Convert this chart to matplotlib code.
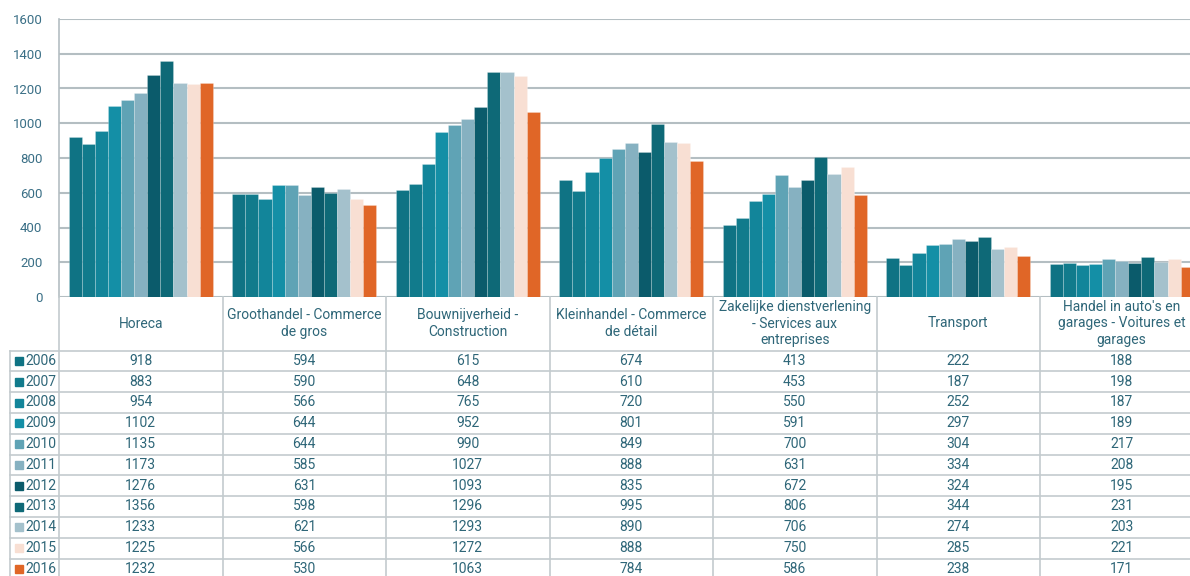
import matplotlib
matplotlib.use("Agg")
import matplotlib.pyplot as plt
import numpy as np

plt.rcParams['font.family'] = ['Roboto', 'DejaVu Sans']

sectors = ["Horeca", "Groothandel - Commerce\nde gros", "Bouwnijverheid -\nConstruction",
           "Kleinhandel - Commerce\nde détail", "Zakelijke dienstverlening\n- Services aux\nentreprises",
           "Transport", "Handel in auto's en\ngarages - Voitures et\ngarages"]
years = ["2006", "2007", "2008", "2009", "2010", "2011", "2012", "2013", "2014", "2015", "2016"]
v2006 = [918, 594, 615, 674, 413, 222, 188]
v2007 = [883, 590, 648, 610, 453, 187, 198]
v2008 = [954, 566, 765, 720, 550, 252, 187]
v2009 = [1102, 644, 952, 801, 591, 297, 189]
v2010 = [1135, 644, 990, 849, 700, 304, 217]
v2011 = [1173, 585, 1027, 888, 631, 334, 208]
v2012 = [1276, 631, 1093, 835, 672, 324, 195]
v2013 = [1356, 598, 1296, 995, 806, 344, 231]
v2014 = [1233, 621, 1293, 890, 706, 274, 203]
v2015 = [1225, 566, 1272, 888, 750, 285, 221]
v2016 = [1232, 530, 1063, 784, 586, 238, 171]
values = [v2006, v2007, v2008, v2009, v2010, v2011, v2012, v2013, v2014, v2015, v2016]
colors = ["#0f7384", "#117b8c", "#12859a", "#148fa6", "#5fa3b5", "#86b1c1",
          "#0b5b6b", "#0e6977", "#a4c1cc", "#f8dfd3", "#e06627"]

txt = "#2e6678"
grid = "#b4bec2"
W, H = 1190, 576
x0 = 59
cw = 163.5
ncat = len(sectors)

fig = plt.figure(figsize=(W / 100, H / 100), dpi=100)
ax = fig.add_axes([x0 / W, (H - 297) / H, ncat * cw / W, 278 / H])

x = np.arange(ncat)
bw = 0.88 / len(years)
for i, (yr, vals) in enumerate(zip(years, values)):
    ax.bar(x - 0.44 + bw * (i + 0.5), vals, width=bw, color=colors[i], zorder=3,
           edgecolor=(1, 1, 1, 0.25), linewidth=0.6)

ax.set_xlim(-0.5, ncat - 0.5)
ax.set_ylim(0, 1600)
ax.set_yticks(range(0, 1601, 200))
ax.yaxis.grid(True, color=grid, linewidth=1.5, zorder=0)
ax.set_xticks([])
ax.tick_params(axis='y', length=0, pad=12, labelsize=9.5, labelcolor="#3a6f86")
for s in ['top', 'right', 'bottom']:
    ax.spines[s].set_visible(False)
ax.spines['left'].set_color(grid)
ax.spines['left'].set_linewidth(1.2)

# data table below the chart
tab = fig.add_axes([x0 / W, 0, ncat * cw / W, (H - 297) / H])
tab.set_xlim(-0.5, ncat - 0.5)
tab.set_ylim(H, 297)
tab.axis('off')

lc = "#c3cbce"
left = -0.5 - (x0 - 10) / cw
row_top = 350.5
rh = 20.8
for k in range(ncat):
    tab.plot([k - 0.5, k - 0.5], [297, H], color=lc, lw=1.2, clip_on=False)
    tab.text(k, 323.5, sectors[k], ha='center', va='center', fontsize=10,
             color=txt, linespacing=1.2)
tab.plot([left, left], [row_top, H], color=lc, lw=1.2, clip_on=False)
for r in range(len(years) + 1):
    yy = row_top + r * rh
    tab.plot([left, ncat - 0.5], [yy, yy], color=lc, lw=1.2, clip_on=False)
for r, (yr, vals) in enumerate(zip(years, values)):
    yc = row_top + (r + 0.5) * rh
    tab.plot(left + 9 / cw, yc, marker='s', markersize=5.5, color=colors[r],
             clip_on=False, linestyle='none')
    tab.text(left + 15 / cw, yc, yr, ha='left', va='center', fontsize=10, color=txt)
    for k in range(ncat):
        tab.text(k, yc, str(vals[k]), ha='center', va='center', fontsize=10, color=txt)

fig.savefig("out.png", dpi=100)
